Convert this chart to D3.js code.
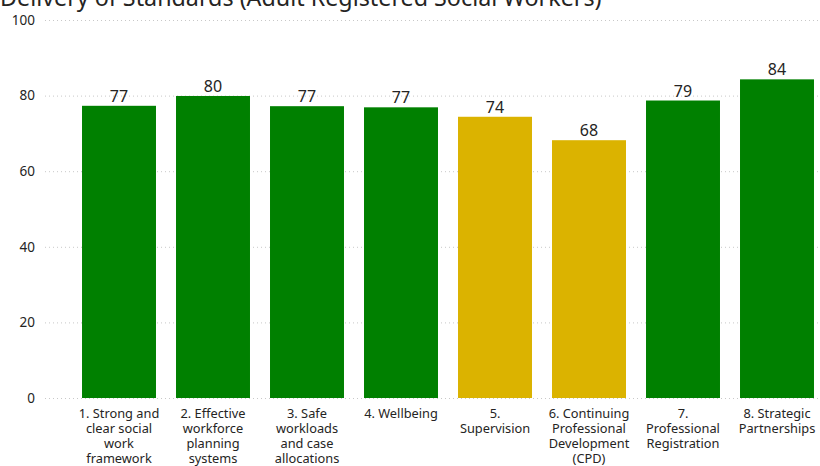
<!DOCTYPE html>
<html><head><meta charset="utf-8">
<script src="https://cdn.jsdelivr.net/npm/d3@7"></script>
<style>body{margin:0;background:#fff;}svg{display:block;font-family:"Segoe UI","Noto Sans","Open Sans",sans-serif;}</style>
</head><body>
<svg id="c" width="820" height="466"></svg>
<script>
const title = "Delivery of Standards (Adult Registered Social Workers)";
const categories = [
  "1. Strong and\nclear social\nwork\nframework",
  "2. Effective\nworkforce\nplanning\nsystems",
  "3. Safe\nworkloads\nand case\nallocations",
  "4. Wellbeing",
  "5.\nSupervision",
  "6. Continuing\nProfessional\nDevelopment\n(CPD)",
  "7.\nProfessional\nRegistration",
  "8. Strategic\nPartnerships"
];
const values = [77.3, 79.9, 77.2, 76.9, 74.4, 68.2, 78.7, 84.3];
const status = ["green","green","green","green","amber","amber","green","green"];
const yTicks = [0, 20, 40, 60, 80, 100];
const colors = {green: "#008000", amber: "#DBB300"};

const svg = d3.select("#c");
const x = d3.scaleBand().domain(categories).range([72, 824]).paddingInner(0.213).paddingOuter(0.1065);
const y = d3.scaleLinear().domain([0, 100]).range([398, 20]);

svg.append("text").attr("x", 0).attr("y", 6).attr("font-size", 23.3).attr("fill", "#252423").text(title);

const grid = svg.append("g");
grid.selectAll("line").data(yTicks).join("line")
  .attr("x1", 45).attr("x2", 820)
  .attr("y1", d => y(d) + 0.5).attr("y2", d => y(d) + 0.5)
  .attr("stroke", "#c8c8c8").attr("stroke-dasharray", "1,3").attr("stroke-width", 1);

const yAxis = svg.append("g").attr("transform", "translate(35,0)")
  .call(d3.axisLeft(y).tickValues(yTicks).tickSize(0).tickPadding(0));
yAxis.select(".domain").remove();
yAxis.selectAll("text").attr("font-size", 13.5).attr("fill", "#252423")
  .attr("font-family", "\"Segoe UI\",\"Noto Sans\",sans-serif");

svg.append("g").selectAll("rect").data(categories).join("rect")
  .attr("x", d => x(d)).attr("width", x.bandwidth())
  .attr("y", (d, i) => y(values[i])).attr("height", (d, i) => y(0) - y(values[i]))
  .attr("fill", (d, i) => colors[status[i]]);

svg.append("g").selectAll("text").data(categories).join("text")
  .attr("x", d => x(d) + x.bandwidth() / 2)
  .attr("y", (d, i) => y(values[i]) - 4)
  .attr("text-anchor", "middle").attr("font-size", 16).attr("fill", "#252423")
  .text((d, i) => Math.round(values[i]));

const xl = svg.append("g");
categories.forEach(c => {
  const t = xl.append("text").attr("text-anchor", "middle").attr("font-size", 12.8)
    .attr("fill", "#252423");
  c.split("\n").forEach((line, j) => {
    t.append("tspan").attr("x", x(c) + x.bandwidth() / 2).attr("y", 418 + j * 15).text(line);
  });
});
</script>
</body></html>
